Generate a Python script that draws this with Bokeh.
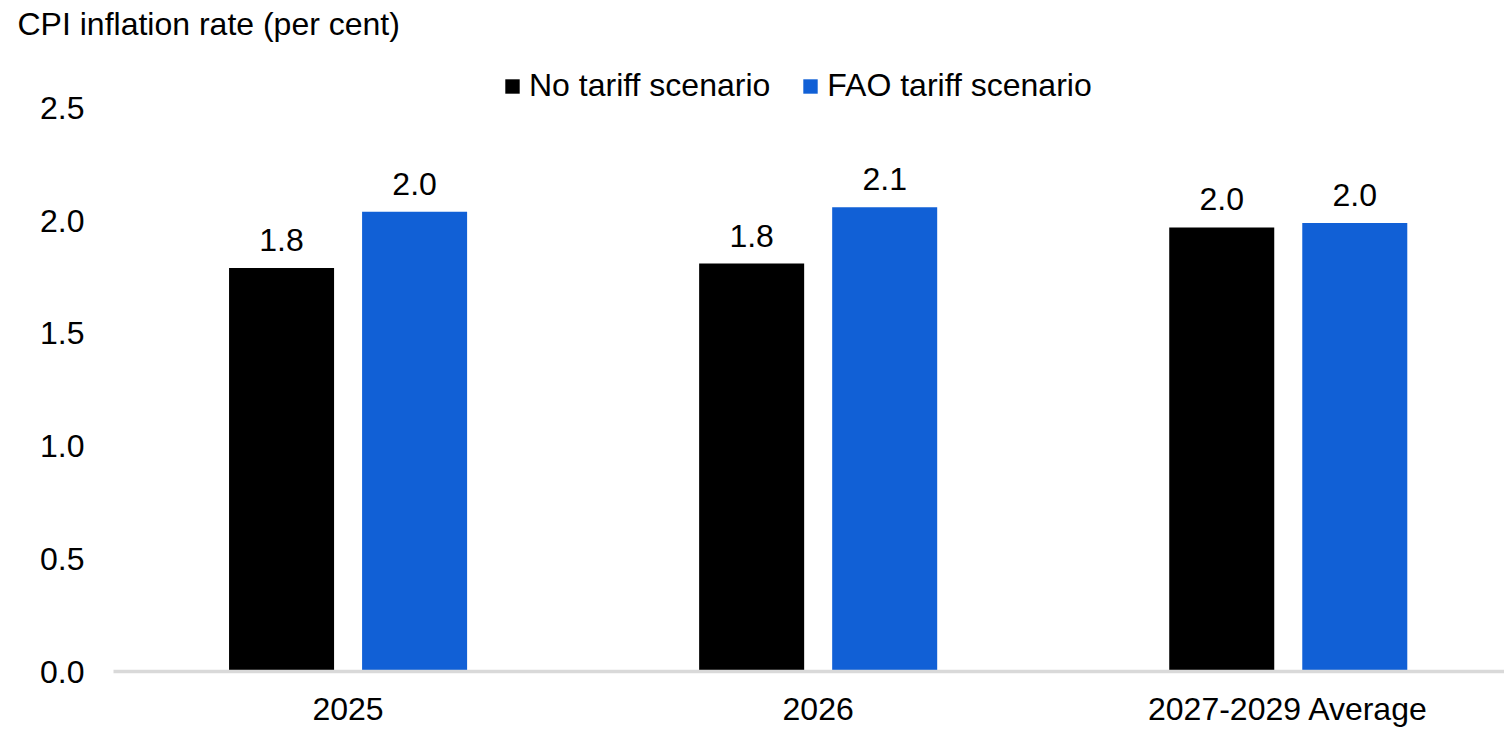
from bokeh.plotting import figure
from bokeh.models import (ColumnDataSource, Range1d, FixedTicker, LabelSet,
                          Legend, LegendItem, NumeralTickFormatter)
from bokeh.transform import dodge
from bokeh.core.properties import value
from bokeh.embed import file_html
from bokeh.resources import INLINE

# CPI inflation under the two scenarios
categories = ["2025", "2026", "2027-2029 Average"]
no_tariff = [1.79, 1.81, 1.97]
fao_tariff = [2.04, 2.06, 1.99]
series_names = ["No tariff scenario", "FAO tariff scenario"]
y_ticks = [0.0, 0.5, 1.0, 1.5, 2.0, 2.5]
y_title = "CPI inflation rate (per cent)"

FONT = "Liberation Sans"
FS = "32px"
BLUE = "#1160D6"
AXIS_GREY = "#D9D9D9"

xpos = list(range(len(categories)))
src = ColumnDataSource(dict(
    x=xpos,
    no=no_tariff,
    fao=fao_tariff,
    no_lbl=[f"{v:.1f}" for v in no_tariff],
    fao_lbl=[f"{v:.1f}" for v in fao_tariff],
))

p = figure(width=1504, height=730, output_backend="svg", toolbar_location=None,
           x_range=Range1d(-0.499, 2.46), y_range=Range1d(0, 2.795),
           min_border_left=113, min_border_right=0, min_border_top=41,
           min_border_bottom=59)

OFF = 0.1415
BW = 0.2234
r_no = p.vbar(x=dodge("x", -OFF), top="no", width=BW, source=src,
              fill_color="black", line_color=None)
r_fao = p.vbar(x=dodge("x", OFF), top="fao", width=BW, source=src,
               fill_color=BLUE, line_color=None)

# value labels above the bars
for xs, col in ((dodge("x", -OFF), "no"), (dodge("x", OFF), "fao")):
    p.add_layout(LabelSet(x=xs, y=col, text=col + "_lbl", source=src,
                          text_align="center", text_baseline="alphabetic",
                          y_offset=17, text_font=value(FONT),
                          text_font_size=FS, text_color="black"))

# unit caption, pushed out to the left edge
p.title.text = y_title
p.title.text_font = FONT
p.title.text_font_size = FS
p.title.text_font_style = "normal"
p.title.text_color = "black"
p.title.align = "left"
p.title.offset = -96
p.title.standoff = 0

# axes
p.yaxis.ticker = FixedTicker(ticks=y_ticks)
p.yaxis.formatter = NumeralTickFormatter(format="0.0")
p.yaxis.axis_line_color = None
p.yaxis.major_tick_line_color = None
p.yaxis.minor_tick_line_color = None
p.yaxis.major_label_standoff = 23
p.yaxis.major_label_text_font = FONT
p.yaxis.major_label_text_font_size = FS
p.yaxis.major_label_text_color = "black"

p.xaxis.ticker = FixedTicker(ticks=xpos)
p.xaxis.major_label_overrides = {i: c for i, c in zip(xpos, categories)}
p.xaxis.axis_line_color = AXIS_GREY
p.xaxis.axis_line_width = 3.5
p.xaxis.major_tick_line_color = None
p.xaxis.minor_tick_line_color = None
p.xaxis.major_label_standoff = 13
p.xaxis.major_label_text_font = FONT
p.xaxis.major_label_text_font_size = FS
p.xaxis.major_label_text_color = "black"

p.xgrid.visible = False
p.ygrid.visible = False
p.outline_line_color = None

legend = Legend(items=[LegendItem(label=series_names[0], renderers=[r_no]),
                       LegendItem(label=series_names[1], renderers=[r_fao])],
                orientation="horizontal", location=(390, 567),
                glyph_width=18, glyph_height=18, label_standoff=8, spacing=31,
                padding=0, margin=0, border_line_color=None,
                background_fill_alpha=0, label_text_font=FONT,
                label_text_font_size=FS, label_text_color="black")
p.add_layout(legend)

open("out.html", "w").write(file_html(p, INLINE))
